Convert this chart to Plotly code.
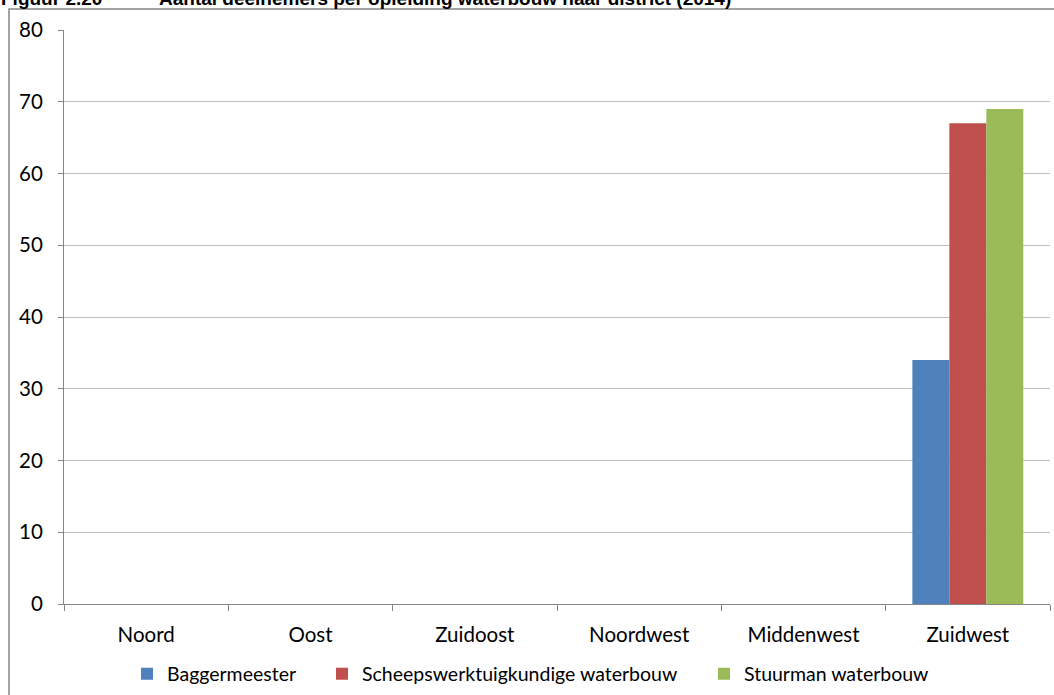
import plotly.graph_objects as go

categories = ["Noord", "Oost", "Zuidoost", "Noordwest", "Middenwest", "Zuidwest"]
baggermeester = [0, 0, 0, 0, 0, 34]
scheepswerktuigkundige = [0, 0, 0, 0, 0, 67]
stuurman = [0, 0, 0, 0, 0, 69]
series_names = ["Baggermeester", "Scheepswerktuigkundige waterbouw", "Stuurman waterbouw"]
colors = ["#4F81BD", "#C0504D", "#9BBB59"]
y_ticks = [0, 10, 20, 30, 40, 50, 60, 70, 80]
title_prefix = "Figuur 2.20"
title_text = "Aantal deelnemers per opleiding waterbouw naar district (2014)"

FONT = "Lato"
W, H = 1054, 695
L, R, T, B = 64, 4, 30, 91
PW, PH = W - L - R, H - T - B


def px_x(px):
    return (px - L) / PW


def px_y(py):
    return (H - B - py) / PH


legend_ids = ["legend", "legend2", "legend3"]
legend_left_px = [127, 322, 704]

fig = go.Figure()
for name, vals, col, lid in zip(series_names, [baggermeester, scheepswerktuigkundige, stuurman], colors, legend_ids):
    fig.add_trace(go.Bar(x=categories, y=vals, name=name, legend=lid,
                         marker=dict(color=col, line=dict(width=0))))

legend_common = dict(orientation="h", xanchor="left", yanchor="middle", y=px_y(674),
                     font=dict(family=FONT, size=19.5, color="black"), itemwidth=30,
                     bgcolor="rgba(0,0,0,0)", borderwidth=0)

fig.update_layout(
    width=W, height=H,
    margin=dict(l=L, r=R, t=T, b=B, autoexpand=False),
    paper_bgcolor="white", plot_bgcolor="white",
    barmode="group", bargap=0.325, bargroupgap=0,
    font=dict(family=FONT, size=17, color="black"),
    showlegend=True,
    legend=dict(x=px_x(legend_left_px[0]), **legend_common),
    legend2=dict(x=px_x(legend_left_px[1]), **legend_common),
    legend3=dict(x=px_x(legend_left_px[2]), **legend_common),
    xaxis=dict(showline=True, linecolor="#868686", linewidth=1, ticks="outside", ticklen=6,
               tickcolor="#868686", tickson="boundaries", ticklabelstandoff=12, automargin=False,
               showgrid=False, tickfont=dict(family=FONT, size=20.5)),
    yaxis=dict(range=[0, 80], tickvals=y_ticks, showline=True, linecolor="#868686", linewidth=1,
               ticks="outside", ticklen=5, tickcolor="#868686", showgrid=True, automargin=False,
               gridcolor="#BFBFBF", gridwidth=1, zeroline=False, ticklabelstandoff=11,
               tickfont=dict(family=FONT, size=20.5)),
)

# outer chart frame
fig.add_shape(type="rect", xref="paper", yref="paper", x0=px_x(9), x1=px_x(1100), y0=px_y(760), y1=px_y(9),
              line=dict(color="#878787", width=1.5), fillcolor="rgba(0,0,0,0)", layer="below")

# title, partially clipped at the top edge like the reference
fig.add_annotation(text="<b>" + title_prefix + "</b>", xref="paper", yref="paper", x=px_x(-1), xanchor="left",
                   y=px_y(11), yanchor="bottom", showarrow=False,
                   font=dict(family="Liberation Sans", size=19, color="black"))
fig.add_annotation(text="<b>" + title_text + "</b>", xref="paper", yref="paper",
                   x=px_x(157), xanchor="left", y=px_y(11), yanchor="bottom", showarrow=False,
                   font=dict(family="Liberation Sans", size=19, color="black"))

# remove the default page margin so the figure sits at the window's top-left corner
fig.write_html("out.html", config={"displayModeBar": False},
               post_script="document.body.style.margin='0';")
